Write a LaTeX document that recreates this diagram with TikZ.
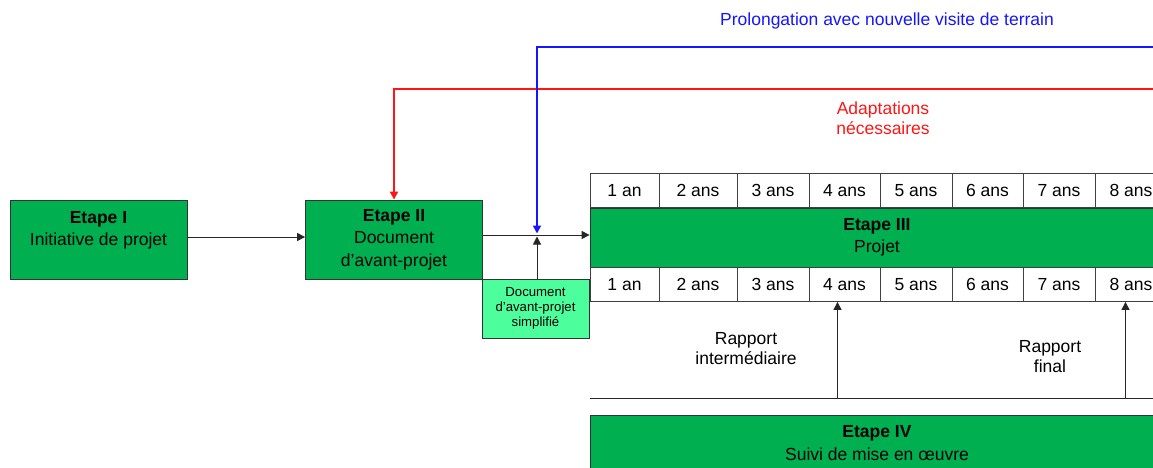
\documentclass[tikz,border=0pt]{standalone}
\usepackage{fontspec}
\setmainfont{Liberation Sans}
\usetikzlibrary{arrows.meta}
\definecolor{etgreen}{HTML}{00B050}
\definecolor{ltgreen}{HTML}{4DFF9C}
\definecolor{lnblue}{HTML}{1515FF}
\definecolor{lnred}{HTML}{FF1515}
\tikzset{
  x=1pt,y=-1pt,
  etbox/.style={draw=black!80,fill=etgreen,line width=0.8pt,inner sep=0pt,align=center,
     font=\fontsize{17.5}{22.5}\selectfont},
  smallbox/.style={draw=black!80,fill=ltgreen,line width=0.8pt,inner sep=0pt,align=center,
     font=\fontsize{13.2}{15}\selectfont},
  yearcell/.style={draw=black!75,fill=white,line width=0.8pt,inner sep=0pt,
     minimum height=34pt,font=\fontsize{17.5}{21}\selectfont},
  lbl/.style={align=center,inner sep=0pt,font=\fontsize{17.5}{20}\selectfont},
  arr/.style={draw=black!85,line width=1pt,-{Triangle[length=8pt,width=8pt]}},
  bluearr/.style={color=lnblue,line width=1.7pt,-{Triangle[length=8pt,width=8pt]}},
  redarr/.style={color=lnred,line width=1.7pt,-{Triangle[length=8pt,width=8pt]}},
}
\begin{document}
\begin{tikzpicture}
\useasboundingbox (0,0) rectangle (1153,468);
\clip (0,0) rectangle (1153,468);

% stages
\node[etbox,minimum width=177pt,minimum height=79pt] (E1) at (98.5,239.5)
  {\textbf{Etape I}\\Initiative de projet\\\mbox{}};
\node[etbox,minimum width=177pt,minimum height=79pt] (E2) at (394,239.5)
  {\textbf{Etape II}\\Document\\d'avant-projet};
\node[smallbox,minimum width=107pt,minimum height=59pt] (S) at (535.5,308.5)
  {Document\\d'avant-projet\\simplifié};
\node[etbox,minimum width=574pt,minimum height=59pt] (E3) at (877,237.5)
  {\textbf{Etape III}\\Projet};
\node[etbox,minimum width=574pt,minimum height=56pt,text depth=0pt] (E4) at (877,443)
  {\textbf{Etape IV}\\Suivi de mise en œuvre};

% year rows
\foreach \a/\b/\t [count=\i] in {590/659/1 an,659/737/2 ans,737/809/3 ans,809/880/4 ans,
   880/952/5 ans,952/1023/6 ans,1023/1095/7 ans,1095/1167/8 ans}{
  \node[yearcell,minimum width={\b-\a}] (T\i) at ({(\a+\b)/2},190.5) {\t};
  \node[yearcell,minimum width={\b-\a}] (B\i) at ({(\a+\b)/2},284.5) {\t};
}

% coordinates
\coordinate (blueR) at (1153,47);
\coordinate (blueC) at (537,47);
\coordinate (blueEnd) at (537,233.5);
\coordinate (redR) at (1153,89);
\coordinate (redC) at (394,89);
\coordinate (upEnd) at (537,236.5);
\coordinate (baseL) at (590,398);
\coordinate (baseR) at (1153,398);
\coordinate (r1) at (837.5,398);
\coordinate (r2) at (1125.5,398);

% connectors
\draw[arr] (E1.east |- 0,237) -- (E2.west |- 0,237);
\draw[arr] (E2.east |- 0,235) -- (E3.west |- 0,235);
\draw[arr] (S.north -| upEnd) -- (upEnd);
\draw[redarr] (redR) -- (redC) -- (E2.north);
\draw[bluearr] (blueR) -- (blueC) -- (blueEnd);
\draw[draw=black!85,line width=1pt] (baseL) -- (baseR);
\draw[arr] (r1) -- (r1 |- B4.south);
\draw[arr] (r2) -- (r2 |- B8.south);

% labels
\node[lbl,text=lnblue] (lblue) at (887,21) {Prolongation avec nouvelle visite de terrain};
\node[lbl,text=lnred] (lred) at (883,118) {Adaptations\\nécessaires};
\node[lbl] (lri) at (746,349) {Rapport\\intermédiaire};
\node[lbl] (lrf) at (1050,357) {Rapport\\final};
\end{tikzpicture}
\end{document}
